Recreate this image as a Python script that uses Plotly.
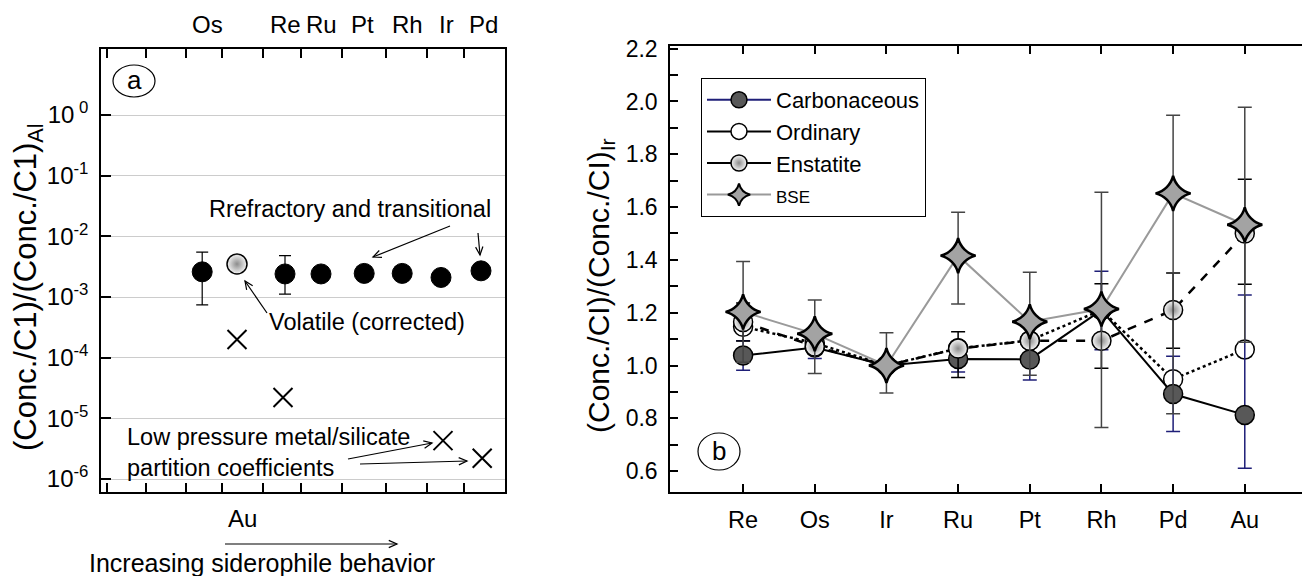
import math
import plotly.graph_objects as go

W, H = 1310, 576
OFF = 8  # page body margin of the browser
FONT = "Liberation Sans, Arial, sans-serif"

# ---------------- Panel (a) data ----------------
a_top_labels = ["Os", "Re", "Ru", "Pt", "Rh", "Ir", "Pd"]
a_top_label_pos = [2.65, 4.6, 5.5, 6.53, 7.65, 8.63, 9.55]
a_bottom_label = "Au"
a_bottom_label_pos = 3.53
a_tick_pos = [0.15, 1.125, 2.125, 3.025, 4.05, 5.0, 6.03, 7.13, 8.15, 9.08, 10.1]

refr_elements = ["Os", "Re", "Ru", "Pt", "Rh", "Ir", "Pd"]
refr_pos = [2.53, 4.6, 5.5, 6.58, 7.53, 8.5, 9.5]
refr_val = [2.6e-3, 2.4e-3, 2.4e-3, 2.45e-3, 2.45e-3, 2.1e-3, 2.7e-3]
refr_err_plus = [2.9e-3, 2.4e-3, None, None, None, None, None]
refr_err_minus = [1.86e-3, 1.28e-3, None, None, None, None, None]

vol_elements = ["Au"]
vol_pos = [3.4]
vol_val = [3.5e-3]

part_elements = ["Au", "Re", "Ir", "Pd"]
part_pos = [3.4, 4.55, 8.55, 9.53]
part_val = [2.0e-4, 2.2e-5, 4.3e-6, 2.2e-6]

a_ytick_vals = [1, 1e-1, 1e-2, 1e-3, 1e-4, 1e-5, 1e-6]
a_ytick_text = ["10<sup> 0</sup>", "10<sup>-1</sup>", "10<sup>-2</sup>", "10<sup>-3</sup>",
                "10<sup>-4</sup>", "10<sup>-5</sup>", "10<sup>-6</sup>"]

# ---------------- Panel (b) data ----------------
b_elements = ["Re", "Os", "Ir", "Ru", "Pt", "Rh", "Pd", "Au"]

carb = [1.038, 1.068, 1.0, 1.025, 1.023, 1.21, 0.892, 0.813]
carb_plus = [0.056, 0.041, None, 0.05, 0.078, 0.147, 0.143, 0.454]
carb_minus = [0.056, 0.041, None, 0.05, 0.078, 0.15, 0.142, 0.202]

ordi = [1.147, 1.085, 1.0, 1.065, 1.095, 1.21, 0.948, 1.061]
ordi_plus = [None, None, None, None, None, None, 0.02, 0.03]
ordi_minus = [None, None, None, None, None, None, 0.02, 0.03]

enst = [1.165, 1.072, 1.0, 1.064, 1.094, 1.094, 1.21, 1.50]
enst_plus = [0.072, None, None, 0.064, None, 0.216, 0.14, 0.205]
enst_minus = [0.072, None, None, 0.109, None, 0.104, 0.145, 0.192]

bse = [1.203, 1.12, 1.0, 1.416, 1.166, 1.214, 1.652, 1.533]
bse_plus = [0.191, 0.128, 0.124, 0.164, 0.187, 0.442, 0.296, 0.445]
bse_minus = [0.191, 0.15, 0.104, 0.183, 0.203, 0.449, 0.835, 0.445]


def pxx(p):
    return (p - OFF) / W


def pxy(p):
    return 1 - (p - OFF) / H


fig = go.Figure()

# ---------------- Panel (a) traces ----------------
fig.add_trace(go.Scatter(
    x=refr_pos, y=refr_val, mode="markers", xaxis="x", yaxis="y", showlegend=False,
    text=refr_elements,
    marker=dict(size=20, color="black", line=dict(color="black", width=1)),
    error_y=dict(type="data", array=refr_err_plus, arrayminus=refr_err_minus,
                 color="black", thickness=1.2, width=6),
))
fig.add_trace(go.Scatter(
    x=vol_pos, y=vol_val, mode="markers", xaxis="x", yaxis="y", showlegend=False,
    text=vol_elements,
    marker=dict(size=20, color="#f4f4f4", gradient=dict(type="radial", color="#8c8c8c"),
                line=dict(color="black", width=1.5)),
))
fig.add_trace(go.Scatter(
    x=part_pos, y=part_val, mode="markers", xaxis="x", yaxis="y", showlegend=False,
    text=part_elements,
    marker=dict(size=19, symbol="x-thin-open", color="black", line=dict(color="black", width=2)),
))

# ---------------- Panel (b) traces ----------------
def err(plus, minus, color):
    return dict(type="data", array=plus, arrayminus=minus, color=color, thickness=1.5, width=7)


xb = list(range(len(b_elements)))

fig.add_trace(go.Scatter(
    x=xb, y=ordi, mode="lines+markers", xaxis="x2", yaxis="y2", showlegend=False,
    line=dict(color="black", width=2.5, dash="dot"),
    marker=dict(size=19, color="white", line=dict(color="black", width=1.5)),
    error_y=err(ordi_plus, ordi_minus, "#c4c4c4"),
))
fig.add_trace(go.Scatter(
    x=xb, y=carb, mode="lines+markers", xaxis="x2", yaxis="y2", showlegend=False,
    line=dict(color="black", width=2),
    marker=dict(size=19, color="#585858", line=dict(color="black", width=1.5)),
    error_y=err(carb_plus, carb_minus, "#1f1f78"),
))
fig.add_trace(go.Scatter(
    x=xb, y=enst, mode="lines+markers", xaxis="x2", yaxis="y2", showlegend=False,
    line=dict(color="black", width=2.5, dash="dash"),
    marker=dict(size=19, color="#f6f6f6", gradient=dict(type="radial", color="#8c8c8c"),
                line=dict(color="black", width=1.5)),
    error_y=err(enst_plus, enst_minus, "black"),
))
fig.add_trace(go.Scatter(
    x=xb, y=bse, mode="lines+markers", xaxis="x2", yaxis="y2", showlegend=False,
    line=dict(color="#9a9a9a", width=2),
    marker=dict(size=25, symbol="star-diamond", color="#a3a3a3", line=dict(color="black", width=2.5)),
    error_y=err(bse_plus, bse_minus, "#454545"),
))

# legend-only entries
legend_items = [
    ("Carbonaceous", dict(size=19, color="#585858", line=dict(color="black", width=1.5)), "#1f1f78"),
    ("Ordinary", dict(size=19, color="white", line=dict(color="black", width=1.5)), "black"),
    ("Enstatite", dict(size=19, color="#f6f6f6", gradient=dict(type="radial", color="#8c8c8c"),
                       line=dict(color="black", width=1.5)), "black"),
    ("<span style='font-size:17px'>BSE</span>",
     dict(size=22, symbol="star-diamond", color="#a3a3a3", line=dict(color="black", width=2)), "#9a9a9a"),
]
for name, mk, lc in legend_items:
    fig.add_trace(go.Scatter(x=[None], y=[None], mode="lines+markers", name=name,
                             xaxis="x2", yaxis="y2", marker=mk, line=dict(color=lc, width=2)))

# ---------------- Axes ----------------
fig.update_layout(
    width=W, height=H, autosize=False,
    margin=dict(l=0, r=0, t=0, b=0, pad=0),
    paper_bgcolor="white", plot_bgcolor="white",
    font=dict(family=FONT, color="black"),
    xaxis=dict(domain=[pxx(101), pxx(505)], range=[0, 10.1], tickvals=a_tick_pos,
               showticklabels=False, ticks="inside", ticklen=9, tickwidth=1.5,
               tickcolor="black", showline=True, linecolor="black", linewidth=1.5,
               mirror="ticks", showgrid=False, zeroline=False, anchor="y", automargin=False),
    yaxis=dict(domain=[pxy(492), pxy(49)], type="log", range=[-6.214, 1.088],
               tickvals=a_ytick_vals, ticktext=a_ytick_text,
               tickfont=dict(family=FONT, size=24, color="black"),
               ticks="inside", ticklen=10, tickwidth=1.5, tickcolor="black",
               showline=True, linecolor="black", linewidth=1.5, mirror=True,
               showgrid=True, gridcolor="#cccccc", gridwidth=1, zeroline=False,
               anchor="x", ticklabelstandoff=6, automargin=False),
    xaxis2=dict(domain=[pxx(670), pxx(1310)], range=[-1.02, 7.91], tickvals=xb, ticktext=b_elements,
                tickfont=dict(family=FONT, size=23.5, color="black"),
                ticks="inside", ticklen=8, tickwidth=1.5, tickcolor="black",
                showline=True, linecolor="black", linewidth=1.5, mirror="ticks",
                showgrid=False, zeroline=False, anchor="y2", ticklabelstandoff=6, automargin=False),
    yaxis2=dict(domain=[pxy(492), pxy(46)], range=[0.521, 2.21], dtick=0.2, tick0=0,
                tickformat=".1f", tickfont=dict(family=FONT, size=23, color="black"),
                ticks="inside", ticklen=8, tickwidth=1.5, tickcolor="black",
                minor=dict(dtick=0.1, ticks="inside", ticklen=8, tickwidth=1.5, tickcolor="black"),
                showline=True, linecolor="black", linewidth=1.5, mirror="ticks",
                showgrid=False, zeroline=False, anchor="x2", ticklabelstandoff=6, automargin=False),
    legend=dict(x=pxx(701), y=pxy(78), xanchor="left", yanchor="top",
                bgcolor="white", bordercolor="black", borderwidth=1,
                font=dict(family=FONT, size=22, color="black"), itemwidth=64,
                tracegroupgap=0),
)


def label(xp, yp, text, size, **kw):
    d = dict(x=pxx(xp), y=pxy(yp), xref="paper", yref="paper", text=text, showarrow=False,
             xanchor="center", yanchor="middle", font=dict(family=FONT, size=size, color="black"))
    d.update(kw)
    return d


annotations = []
# top element labels panel a (positioned on the data x axis)
for lab, pos in zip(a_top_labels, a_top_label_pos):
    annotations.append(dict(x=pos, y=pxy(25), xref="x", yref="paper", text=lab, showarrow=False,
                            xanchor="center", yanchor="middle",
                            font=dict(family=FONT, size=24, color="black")))
annotations.append(dict(x=a_bottom_label_pos, y=pxy(518), xref="x", yref="paper", text=a_bottom_label,
                        showarrow=False, xanchor="center", yanchor="middle",
                        font=dict(family=FONT, size=24, color="black")))

# axis titles
annotations.append(label(28, 287, "(Conc./C1)/(Conc./C1)<sub>Al</sub>", 31, textangle=-90))
annotations.append(label(600, 286, "(Conc./CI)/(Conc./CI)<sub>Ir</sub>", 30, textangle=-90))

# panel a texts
annotations += [
    label(350, 209, "Rrefractory and transitional", 23.5),
    label(367, 322, "Volatile (corrected)", 23.5),
    label(125, 452, "Low pressure metal/silicate<br>partition coefficients", 23.5,
          xanchor="left", align="left"),
    label(262, 563, "Increasing siderophile behavior", 25),
    label(134, 80, "a", 26),
    label(719, 451, "b", 26),
]
fig.update_layout(annotations=annotations)

# arrows drawn as shapes (tail px -> head px)
arrows = [((450, 226), (373, 257)), ((478, 233), (480, 255)), ((267, 313), (245, 281)),
          ((348, 459), (432, 443)), ((360, 464), (467, 461)), ((225, 544), (397, 544))]
shapes = [
    dict(type="circle", xref="paper", yref="paper", x0=pxx(113), x1=pxx(155), y0=pxy(97), y1=pxy(65),
         line=dict(color="black", width=1.2)),
    dict(type="circle", xref="paper", yref="paper", x0=pxx(698), x1=pxx(740), y0=pxy(470), y1=pxy(433),
         line=dict(color="black", width=1.2)),
    # longer tick at 10^0 on panel a
    dict(type="line", xref="paper", yref="y", x0=pxx(101), x1=pxx(118),
         y0=math.log10(a_ytick_vals[0]), y1=math.log10(a_ytick_vals[0]),
         line=dict(color="black", width=1.5)),
]
for (tx, ty), (hx, hy) in arrows:
    dx, dy = hx - tx, hy - ty
    n = math.hypot(dx, dy)
    ux, uy = dx / n, dy / n
    L, th = 9.0, math.radians(24)
    wings = []
    for s in (1, -1):
        c, sn = math.cos(s * th), math.sin(s * th)
        rx, ry = ux * c - uy * sn, ux * sn + uy * c
        wings.append((hx - L * rx, hy - L * ry))
    shapes.append(dict(type="line", xref="paper", yref="paper", x0=pxx(tx), y0=pxy(ty),
                       x1=pxx(hx), y1=pxy(hy), line=dict(color="black", width=1.2)))
    path = "M{},{} L{},{} L{},{}".format(pxx(wings[0][0]), pxy(wings[0][1]), pxx(hx), pxy(hy),
                                          pxx(wings[1][0]), pxy(wings[1][1]))
    shapes.append(dict(type="path", xref="paper", yref="paper", path=path,
                       line=dict(color="black", width=1.2)))
fig.update_layout(shapes=shapes)

fig.write_html("out.html")
